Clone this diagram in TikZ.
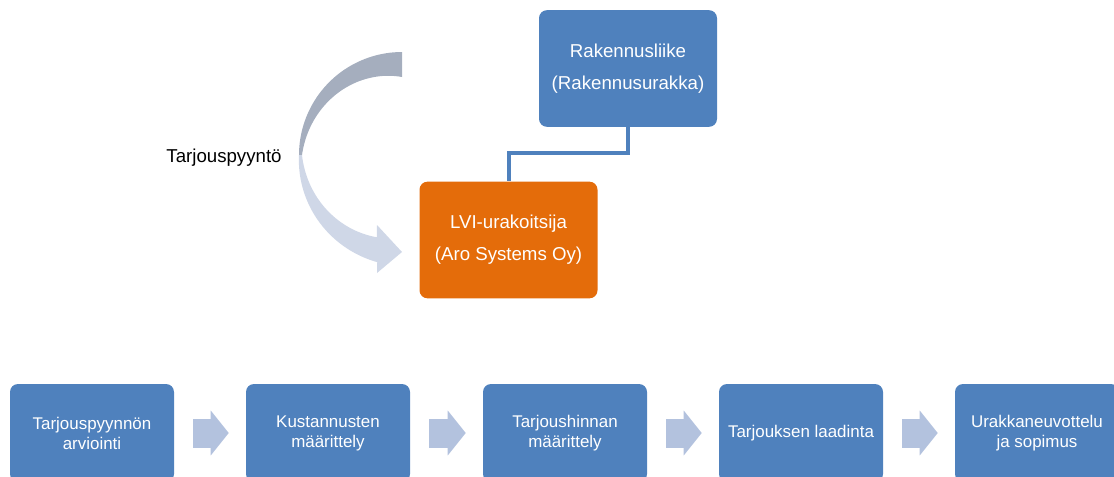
\documentclass[tikz,border=0pt]{standalone}
\usepackage{fontspec}
\setmainfont{Liberation Sans}
\usetikzlibrary{arrows.meta}
\definecolor{boxblue}{HTML}{4F81BD}
\definecolor{boxorange}{HTML}{E46C0A}
\definecolor{flowblue}{HTML}{B3C2DE}
\definecolor{curvegray}{HTML}{A5AEBE}
\definecolor{curvelight}{HTML}{CFD7E7}
\begin{document}
\begin{tikzpicture}[
  x=0.75pt, y=-0.75pt,
  party/.style={rectangle, rounded corners=6pt, fill=#1, text=white,
    minimum width=133.5pt, minimum height=87.5pt, align=center,
    font=\fontsize{14}{24}\selectfont},
  phase/.style={rectangle, rounded corners=6pt, fill=boxblue, text=white,
    minimum width=123pt, minimum height=73.5pt, align=center,
    font=\fontsize{12.7}{15}\selectfont},
  link/.style={draw=boxblue, line width=3pt},
  flow/.style={draw=flowblue, line width=21.75pt,
    -{Triangle[width=33pt,length=13.5pt]},
    shorten <=14.25pt, shorten >=12.75pt}
]
\clip (0,0) rectangle (1114,476);

% --- curved arrow (Tarjouspyyntö) ---
\fill[curvegray]
  plot[domain=270:180, samples=40] ({402+103*cos(\x)}, {155+103*sin(\x)})
  -- plot[domain=180:270, samples=40]
     ({402+(100-22*(\x-180)/90)*cos(\x)}, {155+(100-22*(\x-180)/90)*sin(\x)})
  -- cycle;
\fill[curvelight]
  plot[domain=180:103, samples=40]
     ({402+(103+7*(180-\x)/77)*cos(\x)}, {155+(103+7*(180-\x)/77)*sin(\x)})
  -- (377,273) -- (402,252) -- (377,225)
  -- plot[domain=107:180, samples=40]
     ({402+(86+14*(\x-107)/73)*cos(\x)}, {155+(86+14*(\x-107)/73)*sin(\x)})
  -- cycle;
\node[font=\fontsize{14}{17}\selectfont] (req) at (224,158) {Tarjouspyyntö};

% --- parties ---
\node[party=boxblue]   (rak) at (628,68.5) {Rakennusliike\\(Rakennusurakka)};
\node[party=boxorange] (lvi) at (508.5,240) {LVI-urakoitsija\\(Aro Systems Oy)};
\draw[link] (rak.south) -- ++(0,26) -| (lvi.north);

% --- phases ---
\node[phase] (p1) at (92,433)   {Tarjouspyynnön\\arviointi};
\node[phase] (p2) at (328,433)  {Kustannusten\\määrittely};
\node[phase] (p3) at (565,433)  {Tarjoushinnan\\määrittely};
\node[phase] (p4) at (801,433)  {Tarjouksen laadinta};
\node[phase] (p5) at (1037,433) {Urakkaneuvottelu\\ja sopimus};

\draw[flow] (p1.east) -- (p2.west);
\draw[flow] (p2.east) -- (p3.west);
\draw[flow] (p3.east) -- (p4.west);
\draw[flow] (p4.east) -- (p5.west);

\end{tikzpicture}
\end{document}
